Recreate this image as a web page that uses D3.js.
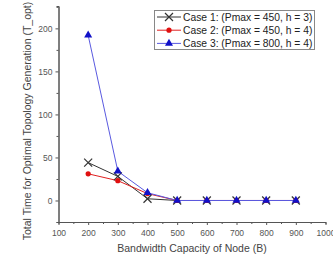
<!DOCTYPE html>
<html><head><meta charset="utf-8">
<script src="https://cdn.jsdelivr.net/npm/d3@7/dist/d3.min.js"></script>
<style>body{margin:0;background:#fff}svg{display:block}text{font-family:Arial,"Liberation Sans",sans-serif}</style>
</head><body>
<script>
const bandwidth = [200, 300, 400, 500, 600, 700, 800, 900];
const case1 = [44, 28, 2, 0, 0, 0, 0, 0];
const case2 = [31, 23, 8, 0, 0, 0, 0, 0];
const case3 = [192, 34, 9, 0, 0, 0, 0, 0];
const seriesNames = ["Case 1: (Pmax = 450, h = 3)", "Case 2: (Pmax = 450, h = 4)", "Case 3: (Pmax = 800, h = 4)"];
const xTicks = [100, 200, 300, 400, 500, 600, 700, 800, 900, 1000];
const yTicks = [0, 50, 100, 150, 200];

const W = 333, H = 256;
const svg = d3.select("body").append("svg").attr("width", W).attr("height", H);
const x = d3.scaleLinear().domain([100, 1000]).range([58.5, 325.5]);
const y = d3.scaleLinear().domain([-25, 226]).range([222, 6]);

const axisColor = "#555";
// x axis
const gx = svg.append("g").attr("transform", `translate(0,${y.range()[0]})`);
gx.call(d3.axisBottom(x).tickValues(xTicks).tickSize(3).tickSizeOuter(0).tickFormat(d3.format("d")));
gx.append("g").call(d3.axisBottom(x).tickValues(d3.range(150, 1000, 100)).tickSize(2).tickFormat(""));
// y axis
const gy = svg.append("g").attr("transform", `translate(${x.range()[0]},0)`);
gy.call(d3.axisLeft(y).tickValues(yTicks).tickSize(3).tickSizeOuter(0));
gy.append("g").call(d3.axisLeft(y).tickValues(d3.range(-25, 226, 50)).tickSize(2).tickFormat(""));
svg.selectAll(".domain").attr("stroke", axisColor);
svg.selectAll(".tick line").attr("stroke", axisColor);
svg.selectAll(".tick text").attr("fill", "#555").style("font-size", "8.5px");
gx.selectAll(".tick text").attr("dy", "0.9em");

// labels
svg.append("text").attr("x", 192).attr("y", 252).attr("text-anchor", "middle")
  .attr("fill", "#444").style("font-size", "10.5px").text("Bandwidth Capacity of Node (B)");
svg.append("text").attr("transform", "translate(31,121) rotate(-90)").attr("text-anchor", "middle")
  .attr("fill", "#444").style("font-size", "10.5px").text("Total Time for Optimal Topology Generation (T_opt)");

const series = [
  {vals: case1, line: "#333", mark: "#333", type: "x"},
  {vals: case2, line: "#e02020", mark: "#e01010", type: "circle"},
  {vals: case3, line: "#5a5ae0", mark: "#1010c8", type: "triangle"}
];
const line = d3.line().x((d, i) => x(bandwidth[i])).y(d => y(d));

function drawMarker(g, type, color, cx, cy) {
  if (type === "x") {
    g.append("path").attr("d", `M${cx-4},${cy-4}L${cx+4},${cy+4}M${cx-4},${cy+4}L${cx+4},${cy-4}`)
      .attr("stroke", color).attr("stroke-width", 1.2).attr("fill", "none");
  } else if (type === "circle") {
    g.append("circle").attr("cx", cx).attr("cy", cy).attr("r", 2.6).attr("fill", color);
  } else {
    g.append("path").attr("d", d3.symbol().type(d3.symbolTriangle).size(28)())
      .attr("transform", `translate(${cx},${cy})`).attr("fill", color);
  }
}

series.forEach(s => {
  svg.append("path").datum(s.vals).attr("d", line).attr("fill", "none")
    .attr("stroke", s.line).attr("stroke-width", 1);
});
series.forEach(s => {
  const g = svg.append("g");
  s.vals.forEach((v, i) => drawMarker(g, s.type, s.mark, x(bandwidth[i]), y(v)));
});

// legend
const lg = svg.append("g");
lg.append("rect").attr("x", 154.5).attr("y", 10.5).attr("width", 160).attr("height", 39)
  .attr("fill", "#fff").attr("stroke", "#888").attr("stroke-width", 1);
series.forEach((s, i) => {
  const yy = 17 + i * 13.2;
  lg.append("line").attr("x1", 157).attr("x2", 181).attr("y1", yy).attr("y2", yy)
    .attr("stroke", s.line).attr("stroke-width", 1);
  drawMarker(lg, s.type, s.mark, 169, yy);
  lg.append("text").attr("x", 183).attr("y", yy).attr("dy", "0.35em")
    .attr("fill", "#222").style("font-size", "10.3px").text(seriesNames[i]);
});
</script>
</body></html>
